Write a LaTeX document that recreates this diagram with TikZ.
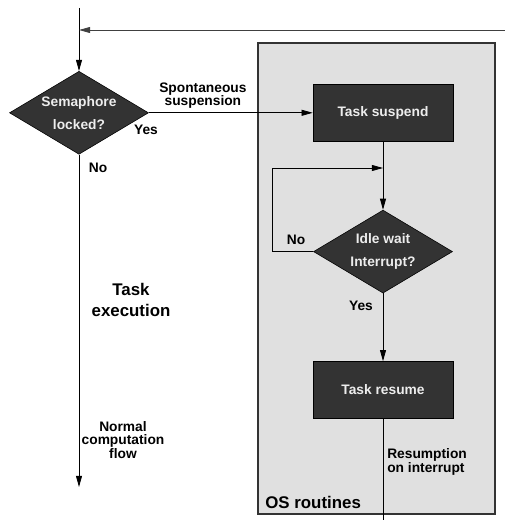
\documentclass[tikz,border=0pt]{standalone}
\usepackage{fontspec}
\setmainfont{Liberation Sans}
\usetikzlibrary{shapes.geometric, arrows.meta, positioning}
\definecolor{darkbox}{HTML}{333333}
\definecolor{osgray}{HTML}{E0E0E0}

\begin{document}
\begin{tikzpicture}[
        decision/.style={draw=black, diamond, aspect=1.67, inner sep=0pt, minimum width=3.475cm, minimum height=2.075cm, align=center, fill=darkbox, text=white!93!black, font=\bfseries\fontsize{9.8}{16.3}\selectfont},
        task/.style={draw=black, rectangle, minimum width=3.5cm, minimum height=1.425cm, align=center, fill=darkbox, text=white!93!black, font=\bfseries\fontsize{9.8}{12}\selectfont},
        osbox/.style={draw=black!80, rectangle, fill=osgray, line width=0.8pt, minimum width=5.925cm, minimum height=11.775cm},
        arrow/.style={-{Triangle[length=0.28cm, width=0.15cm]}, line width=0.6pt},
        lbl/.style={font=\bfseries\fontsize{9.8}{9.4}\selectfont, align=center, inner sep=0pt},
        big/.style={font=\bfseries\fontsize{12}{14.9}\selectfont, align=center, inner sep=0pt}
    ]
        \useasboundingbox (0,0) rectangle (12.625,-13.025);

        % --- OS routines area ---
        \node[osbox] (os) at (9.4125,-6.9625) {};
        \node[big, anchor=south west] (oslbl) at (6.625,-12.72) {OS routines};

        % --- Task execution ---
        \coordinate (start) at (1.975,-0.2);
        \coordinate (join) at (1.975,-0.75);
        \coordinate (back) at (12.625,-0.75);
        \coordinate (flowend) at (1.975,-12.175);

        \node[decision] (sem) at (1.975,-2.82) {Semaphore\\locked?};
        \draw[line width=0.6pt] (start) -- (join);
        \draw[arrow] (join) -- (sem.north);
        \draw[arrow, draw=black!75] (back) -- (join);
        \draw[arrow] (sem.south) -- (flowend);

        \node[lbl] (yes1) at (3.65,-3.25) {Yes};
        \node[lbl] (no1) at (2.45,-4.2) {No};
        \node[big] (exec) at (3.275,-7.5) {Task\\execution};
        \node[lbl] (normal) at (3.075,-11.0) {Normal\\computation\\flow};

        % --- Suspend / wait / resume ---
        \node[task] (susp) at (9.575,-2.82) {Task suspend};
        \draw[arrow] (sem.east) -- (susp.west)
            node[pos=0.33, above=3pt, lbl]{Spontaneous\\suspension};

        \node[decision] (idle) at (9.575,-6.29) {Idle wait\\Interrupt?};
        \coordinate (loopin) at (9.575,-4.2);
        \draw[arrow] (susp.south) -- (idle.north);
        \draw[arrow] (idle.west) -- ++(-1.025,0) |- (loopin);
        \node[lbl] (no2) at (7.4,-6.0) {No};

        \node[task] (resume) at (9.575,-9.75) {Task resume};
        \draw[arrow] (idle.south) -- (resume.north);
        \node[lbl] (yes2) at (9.025,-7.65) {Yes};

        \coordinate (exit) at (9.575,-13.0);
        \draw[line width=0.6pt] (resume.south) -- (exit);
        \node[lbl, align=left, anchor=west] (resumption) at (9.675,-11.55) {Resumption\\on interrupt};

    \end{tikzpicture}
\end{document}
